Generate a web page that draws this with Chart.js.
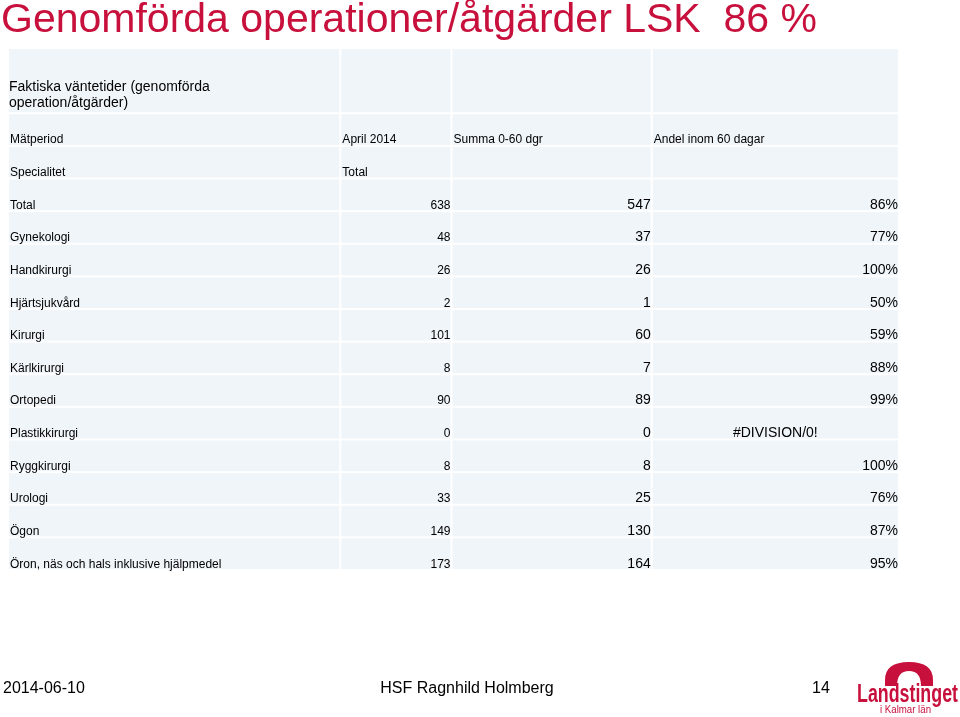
<!DOCTYPE html>
<html lang="sv">
<head>
<meta charset="utf-8">
<title>Genomförda operationer/åtgärder LSK</title>
<script src="https://cdn.jsdelivr.net/npm/chart.js@4.4.1/dist/chart.umd.min.js"></script>
<style>
  body { margin: 0; background: #fff; font-family: "Liberation Sans", Arial, sans-serif; }
  #wrap { position: relative; width: 960px; height: 717px; overflow: hidden; }
  #table { position: absolute; left: 0; top: 0; }
  .title { position: absolute; left: 1px; top: -2px; font-size: 41px; line-height: 41px; color: #c8103c; white-space: pre; }
  .foot { position: absolute; top: 680px; font-size: 16px; line-height: 16px; color: #000; white-space: pre; }
  #logo { position: absolute; left: 0; top: 0; }
</style>
</head>
<body>
<div id="wrap">
  <canvas id="table" width="960" height="717"></canvas>
  <div class="title">Genomförda operationer/åtgärder LSK  86 %</div>
  <div class="foot" style="left:3px">2014-06-10</div>
  <div class="foot" style="left:367px;width:200px;text-align:center">HSF Ragnhild Holmberg</div>
  <div class="foot" style="left:812px">14</div>
  <svg id="logo" width="960" height="717">
    <path d="M885,686 L885,680 Q885,662 909,662 Q933,662 933,680 L933,686 L921,686 Q921,671 909,671 Q897,671 897,686 Z" fill="#c8103c"/>
    <text x="857" y="702" font-family="Liberation Sans, Arial, sans-serif" font-weight="bold" font-size="25" fill="#c8103c" textLength="101" lengthAdjust="spacingAndGlyphs">Landstinget</text>
    <text x="880" y="713" font-family="Liberation Sans, Arial, sans-serif" font-size="11" fill="#c8103c" textLength="51" lengthAdjust="spacingAndGlyphs">i Kalmar län</text>
  </svg>
</div>
<script>
// rows of the table
const specialties = ["Total", "Gynekologi", "Handkirurgi", "Hjärtsjukvård", "Kirurgi", "Kärlkirurgi",
  "Ortopedi", "Plastikkirurgi", "Ryggkirurgi", "Urologi", "Ögon", "Öron, näs och hals inklusive hjälpmedel"];
const april2014 = [638, 48, 26, 2, 101, 8, 90, 0, 8, 33, 149, 173];
const summa060 = [547, 37, 26, 1, 60, 7, 89, 0, 8, 25, 130, 164];
const andel = [86, 77, 100, 50, 59, 88, 99, null, 100, 76, 87, 95]; // null = #DIVISION/0!

const headerTitle = ["Faktiska väntetider (genomförda", "operation/åtgärder)"];
const columnHeads = ["Mätperiod", "April 2014", "Summa 0-60 dgr", "Andel inom 60 dagar"];
const subHeads = ["Specialitet", "Total"];

// column edges in x units, header row is two units high
const colEdges = [0, 332, 443, 643, 890];
const rowCount = 3 + specialties.length;
function rowTop(i) { return i === 0 ? 0 : i + 1; }
function rowBottom(i) { return i + 2; }

const FONT = '"Liberation Sans", Arial, sans-serif';

const tablePlugin = {
  id: 'table',
  beforeDatasetsDraw(chart) {
    const { ctx, scales: { x, y } } = chart;
    ctx.save();

    // cell backgrounds with white gaps
    ctx.fillStyle = '#f0f5fa';
    for (let r = 0; r < rowCount; r++) {
      for (let c = 0; c < 4; c++) {
        const x0 = x.getPixelForValue(colEdges[c]);
        const x1 = x.getPixelForValue(colEdges[c + 1]);
        const y0 = y.getPixelForValue(rowTop(r));
        const y1 = y.getPixelForValue(rowBottom(r));
        ctx.fillRect(x0 + 1, y0 + 1, x1 - x0 - 2, y1 - y0 - 2);
      }
    }

    function cell(r, c, text, align, size) {
      const x0 = x.getPixelForValue(colEdges[c]);
      const x1 = x.getPixelForValue(colEdges[c + 1]);
      const yb = y.getPixelForValue(rowBottom(r)) - 2.5;
      ctx.font = size + 'px ' + FONT;
      ctx.fillStyle = '#000';
      ctx.textBaseline = 'alphabetic';
      ctx.textAlign = align;
      let tx = x0 + 2;
      if (align === 'right') tx = x1 - 1;
      if (align === 'center') tx = (x0 + x1) / 2;
      ctx.fillText(text, tx, yb);
    }

    // header block
    const hb = y.getPixelForValue(rowBottom(0));
    ctx.font = '14px ' + FONT;
    ctx.fillStyle = '#000';
    ctx.textAlign = 'left';
    ctx.textBaseline = 'alphabetic';
    ctx.fillText(headerTitle[0], x.getPixelForValue(0) + 1, hb - 22);
    ctx.fillText(headerTitle[1], x.getPixelForValue(0) + 1, hb - 6);

    columnHeads.forEach((t, c) => cell(1, c, t, 'left', 12));
    subHeads.forEach((t, c) => cell(2, c, t, 'left', 12));

    specialties.forEach((name, i) => {
      const r = i + 3;
      cell(r, 0, name, 'left', 12);
      cell(r, 1, String(april2014[i]), 'right', 12);
      cell(r, 2, String(summa060[i]), 'right', 14);
      if (andel[i] === null) cell(r, 3, '#DIVISION/0!', 'center', 14);
      else cell(r, 3, andel[i] + '%', 'right', 14);
    });

    ctx.restore();
  }
};

new Chart(document.getElementById('table'), {
  type: 'scatter',
  data: { datasets: [] },
  options: {
    responsive: false,
    animation: false,
    layout: { padding: { left: 8, right: 61, top: 48, bottom: 147 } },
    plugins: { legend: { display: false }, tooltip: { enabled: false } },
    scales: {
      x: { type: 'linear', display: false, min: 0, max: colEdges[colEdges.length - 1] },
      y: { type: 'linear', display: false, reverse: true, min: 0, max: rowCount + 1 }
    }
  },
  plugins: [tablePlugin]
});
</script>
</body>
</html>
